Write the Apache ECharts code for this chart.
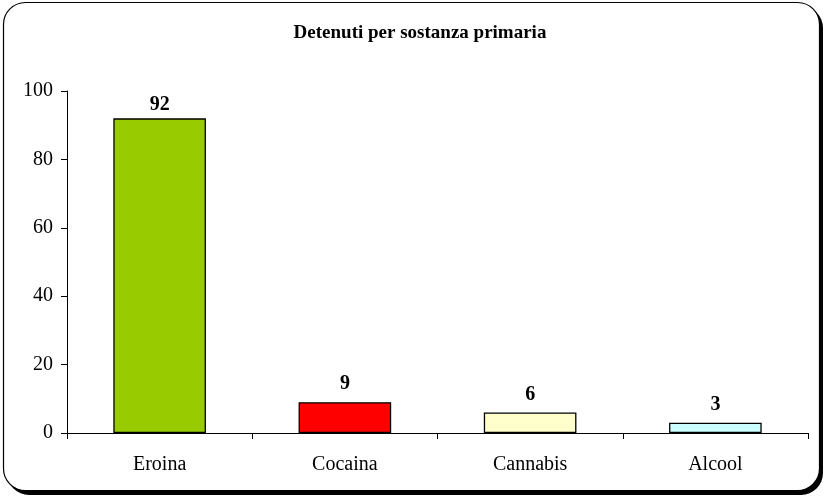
<!DOCTYPE html>
<html><head><meta charset="utf-8">
<script src="https://cdn.jsdelivr.net/npm/echarts@6/dist/echarts.min.js"></script>
<style>html,body{margin:0;padding:0;background:#fff}#c{width:826px;height:504px}</style>
</head><body><div id="c"></div>
<script>
const categories = ['Eroina', 'Cocaina', 'Cannabis', 'Alcool'];
const values = [92, 9, 6, 3];
const colors = ['#99CC00', '#FF0000', '#FFFFCC', '#CCFFFF'];
const titleText = 'Detenuti per sostanza primaria';
const font = '"Liberation Serif", "Times New Roman", serif';

const chart = echarts.init(document.getElementById('c'), null, {renderer: 'canvas'});
chart.setOption({
  animation: false,
  backgroundColor: '#fff',
  graphic: [{
    type: 'rect', z: -11, silent: true,
    shape: {x: 7, y: 6, width: 816, height: 489, r: 22},
    style: {fill: '#000'}
  }, {
    type: 'rect', z: -10, silent: true,
    shape: {x: 3.5, y: 2.5, width: 816, height: 488, r: 22},
    style: {fill: '#fff', stroke: '#000', lineWidth: 1.2}
  }],
  title: {
    text: titleText, left: 415, top: 19, textAlign: 'center',
    textStyle: {fontFamily: font, fontWeight: 'bold', fontSize: 19, color: '#000'}
  },
  grid: {left: 67, right: 18, top: 91, bottom: 71, containLabel: false},
  xAxis: {
    type: 'category', data: categories,
    axisLine: {lineStyle: {color: '#000', width: 1}},
    axisTick: {show: true, length: 6, alignWithLabel: false, lineStyle: {color: '#000'}},
    axisLabel: {fontFamily: font, fontSize: 20, color: '#000', margin: 22}
  },
  yAxis: {
    type: 'value', min: 0, max: 100, interval: 20,
    axisLine: {show: true, lineStyle: {color: '#000', width: 1}},
    axisTick: {show: true, length: 6, lineStyle: {color: '#000'}},
    splitLine: {show: false},
    axisLabel: {fontFamily: font, fontSize: 20, color: '#000', margin: 14}
  },
  series: [{
    type: 'bar', barCategoryGap: '50%',
    data: values.map((v, i) => ({
      value: v, itemStyle: {color: colors[i]},
      label: i === 0 ? {distance: 4} : undefined
    })),
    itemStyle: {borderColor: '#000', borderWidth: 1.3},
    label: {show: true, position: 'top', distance: 8, fontFamily: font, fontWeight: 'bold', fontSize: 20, color: '#000'}
  }]
});
</script></body></html>
